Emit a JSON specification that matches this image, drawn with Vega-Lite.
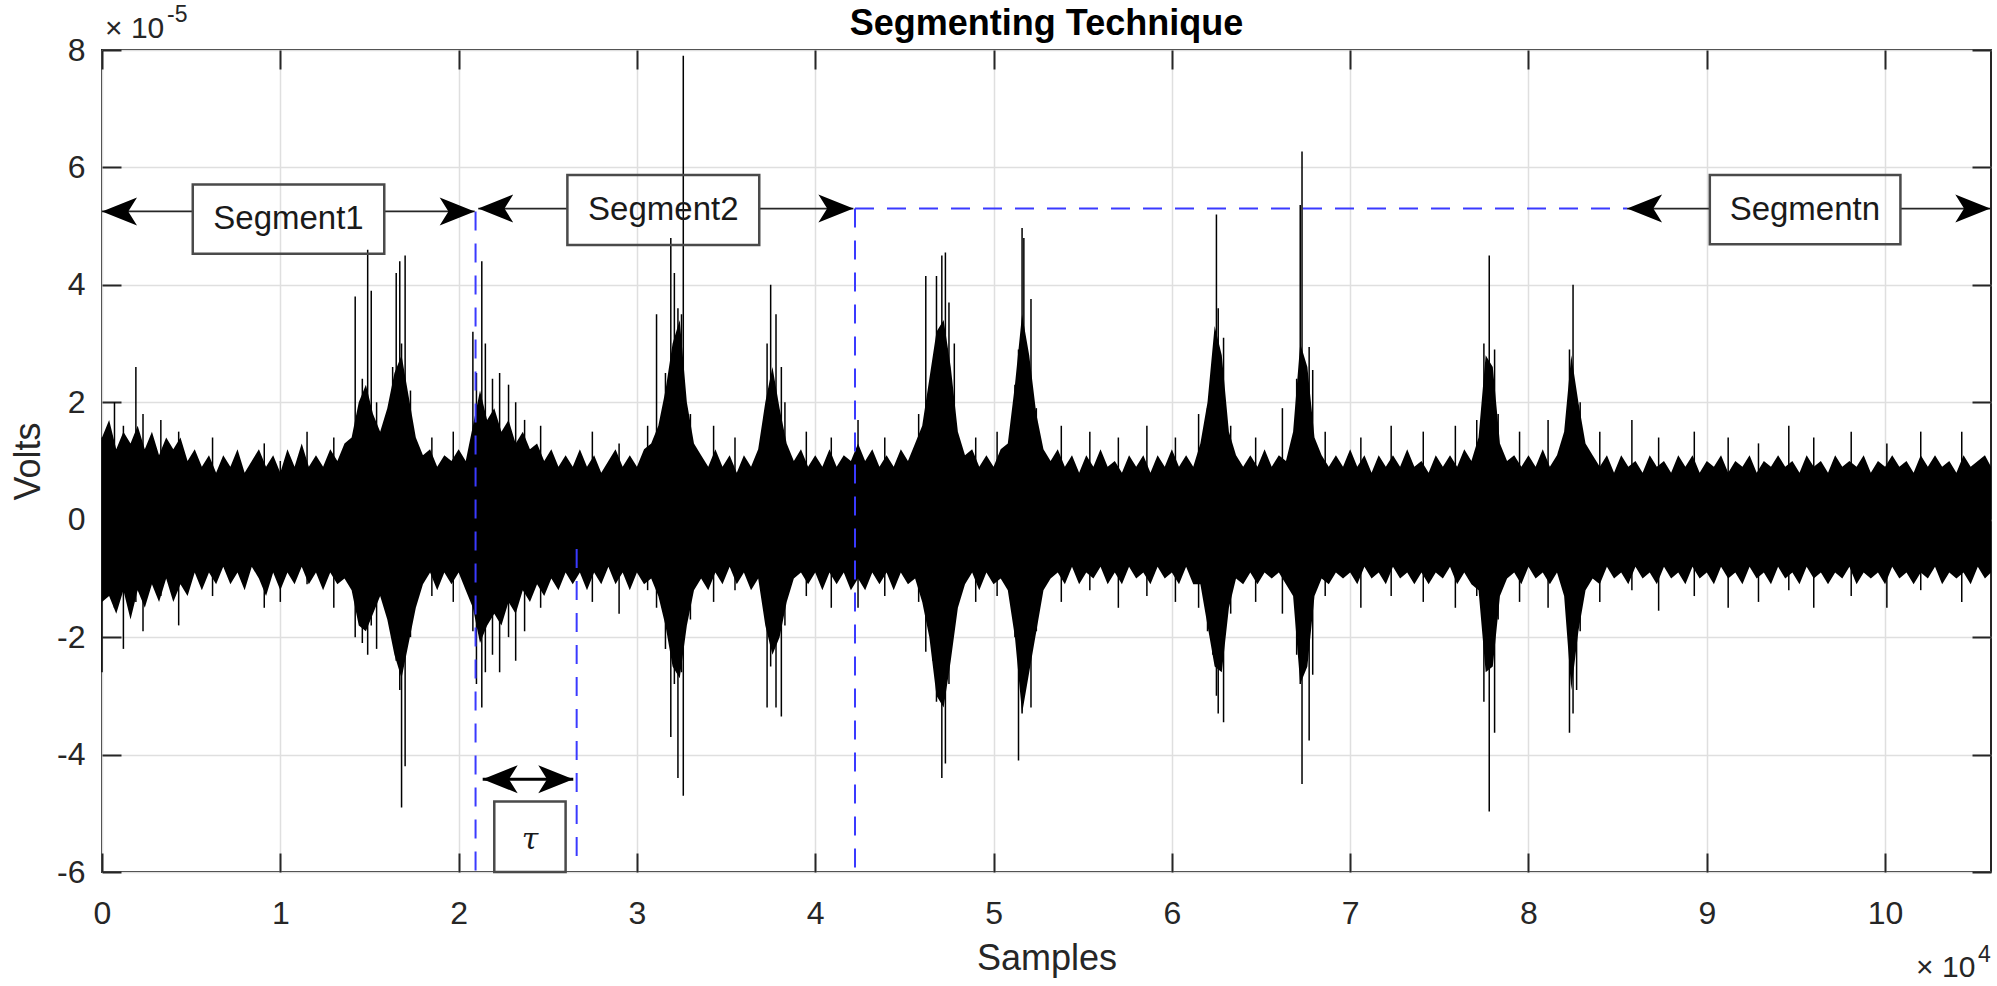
{
  "$schema": "https://vega.github.io/schema/vega-lite/v6.json",
  "width": 1889,
  "height": 822,
  "autosize": {"type": "none"},
  "padding": {"left": 102, "top": 50, "right": 6, "bottom": 114},
  "background": "white",
  "title": {"text": "Segmenting Technique", "font": "Liberation Sans", "fontSize": 36, "fontWeight": "bold", "color": "#000000", "anchor": "middle", "offset": -8, "dy": 31},
  "config": {"view": {"stroke": "#262626", "strokeWidth": 2}},
  "datasets": {
    "band": [
      {"s":0,"h":1.4,"l":-1.4},{"s":400,"h":1.7,"l":-1.3},{"s":800,"h":1.2,"l":-1.6},{"s":1200,"h":1.5,"l":-1.2},{"s":1600,"h":1.3,"l":-1.7},{"s":2000,"h":1.6,"l":-1.2},{"s":2400,"h":1.2,"l":-1.5},{"s":2800,"h":1.5,"l":-1.1},{"s":3200,"h":1.1,"l":-1.4},{"s":3600,"h":1.4,"l":-1.0},{"s":4000,"h":1.2,"l":-1.4},{"s":4400,"h":1.4,"l":-1.1},{"s":4800,"h":1.0,"l":-1.3},{"s":5200,"h":1.2,"l":-0.9},{"s":5600,"h":0.9,"l":-1.2},{"s":6000,"h":1.1,"l":-0.9},{"s":6400,"h":0.8,"l":-1.1},{"s":6800,"h":1.1,"l":-0.8},{"s":7200,"h":0.9,"l":-1.1},{"s":7600,"h":1.2,"l":-0.9},{"s":8000,"h":0.8,"l":-1.2},{"s":8400,"h":1.0,"l":-0.8},{"s":8800,"h":1.2,"l":-1.0},{"s":9200,"h":0.9,"l":-1.3},{"s":9600,"h":1.1,"l":-0.9},{"s":10000,"h":0.8,"l":-1.2},{"s":10400,"h":1.2,"l":-0.9},{"s":10800,"h":0.9,"l":-1.1},{"s":11200,"h":1.3,"l":-0.8},{"s":11600,"h":0.9,"l":-1.1},{"s":12000,"h":1.1,"l":-0.9},{"s":12400,"h":0.9,"l":-1.2},{"s":12800,"h":1.2,"l":-0.9},{"s":13200,"h":1.0,"l":-1.1},{"s":13600,"h":1.3,"l":-1.0},{"s":14000,"h":1.4,"l":-1.2},{"s":14400,"h":2.0,"l":-1.8},{"s":14800,"h":2.3,"l":-1.9},{"s":15200,"h":1.8,"l":-1.6},{"s":15600,"h":1.5,"l":-1.3},{"s":16000,"h":1.9,"l":-1.7},{"s":16400,"h":2.5,"l":-2.3},{"s":16800,"h":2.8,"l":-2.7},{"s":17200,"h":2.1,"l":-2.1},{"s":17600,"h":1.4,"l":-1.5},{"s":18000,"h":1.1,"l":-1.1},{"s":18400,"h":1.2,"l":-0.9},{"s":18800,"h":0.9,"l":-1.2},{"s":19200,"h":1.1,"l":-0.9},{"s":19600,"h":1.0,"l":-1.1},{"s":20000,"h":1.2,"l":-0.9},{"s":20400,"h":1.0,"l":-1.2},{"s":20800,"h":1.6,"l":-1.5},{"s":21200,"h":2.2,"l":-2.1},{"s":21600,"h":1.7,"l":-1.8},{"s":22000,"h":1.9,"l":-1.6},{"s":22400,"h":1.5,"l":-1.8},{"s":22800,"h":1.7,"l":-1.4},{"s":23200,"h":1.3,"l":-1.6},{"s":23600,"h":1.5,"l":-1.2},{"s":24000,"h":1.2,"l":-1.4},{"s":24400,"h":1.3,"l":-1.1},{"s":24800,"h":1.0,"l":-1.3},{"s":25200,"h":1.2,"l":-1.0},{"s":25600,"h":0.9,"l":-1.2},{"s":26000,"h":1.1,"l":-0.9},{"s":26400,"h":0.9,"l":-1.1},{"s":26800,"h":1.2,"l":-0.9},{"s":27200,"h":0.9,"l":-1.2},{"s":27600,"h":1.1,"l":-0.9},{"s":28000,"h":0.8,"l":-1.1},{"s":28400,"h":1.0,"l":-0.8},{"s":28800,"h":1.2,"l":-1.1},{"s":29200,"h":0.9,"l":-0.9},{"s":29600,"h":1.1,"l":-1.2},{"s":30000,"h":0.9,"l":-0.9},{"s":30400,"h":1.2,"l":-1.1},{"s":30800,"h":1.3,"l":-1.0},{"s":31200,"h":1.6,"l":-1.3},{"s":31600,"h":2.2,"l":-1.8},{"s":32000,"h":3.0,"l":-2.5},{"s":32400,"h":3.4,"l":-2.7},{"s":32800,"h":2.0,"l":-1.8},{"s":33200,"h":1.3,"l":-1.2},{"s":33600,"h":1.1,"l":-1.0},{"s":34000,"h":0.9,"l":-1.2},{"s":34400,"h":1.2,"l":-0.9},{"s":34800,"h":0.9,"l":-1.1},{"s":35200,"h":1.1,"l":-0.8},{"s":35600,"h":0.8,"l":-1.1},{"s":36000,"h":1.1,"l":-0.9},{"s":36400,"h":0.9,"l":-1.2},{"s":36800,"h":1.2,"l":-1.0},{"s":37200,"h":2.0,"l":-1.8},{"s":37600,"h":2.6,"l":-2.3},{"s":38000,"h":1.9,"l":-2.0},{"s":38400,"h":1.3,"l":-1.4},{"s":38800,"h":1.0,"l":-1.0},{"s":39200,"h":1.2,"l":-0.9},{"s":39600,"h":0.9,"l":-1.1},{"s":40000,"h":1.1,"l":-0.9},{"s":40400,"h":0.9,"l":-1.2},{"s":40800,"h":1.2,"l":-0.9},{"s":41200,"h":0.9,"l":-1.1},{"s":41600,"h":1.1,"l":-0.9},{"s":42000,"h":1.0,"l":-1.2},{"s":42400,"h":1.3,"l":-1.0},{"s":42800,"h":1.0,"l":-1.2},{"s":43200,"h":1.2,"l":-0.9},{"s":43600,"h":0.9,"l":-1.1},{"s":44000,"h":1.1,"l":-0.9},{"s":44400,"h":0.9,"l":-1.2},{"s":44800,"h":1.2,"l":-0.9},{"s":45200,"h":1.0,"l":-1.1},{"s":45600,"h":1.3,"l":-1.0},{"s":46000,"h":1.6,"l":-1.4},{"s":46400,"h":2.4,"l":-2.0},{"s":46800,"h":3.2,"l":-3.0},{"s":47200,"h":3.4,"l":-3.2},{"s":47600,"h":2.6,"l":-2.4},{"s":48000,"h":1.5,"l":-1.5},{"s":48400,"h":1.1,"l":-1.1},{"s":48800,"h":1.2,"l":-0.9},{"s":49200,"h":0.9,"l":-1.2},{"s":49600,"h":1.1,"l":-0.9},{"s":50000,"h":0.9,"l":-1.1},{"s":50400,"h":1.2,"l":-1.0},{"s":50800,"h":1.3,"l":-1.2},{"s":51200,"h":2.3,"l":-2.0},{"s":51600,"h":3.5,"l":-3.3},{"s":52000,"h":2.8,"l":-2.6},{"s":52400,"h":1.8,"l":-1.9},{"s":52800,"h":1.2,"l":-1.2},{"s":53200,"h":1.0,"l":-1.0},{"s":53600,"h":1.2,"l":-0.9},{"s":54000,"h":0.9,"l":-1.1},{"s":54400,"h":1.1,"l":-0.8},{"s":54800,"h":0.8,"l":-1.1},{"s":55200,"h":1.1,"l":-0.9},{"s":55600,"h":0.9,"l":-1.0},{"s":56000,"h":1.2,"l":-0.8},{"s":56400,"h":0.9,"l":-1.1},{"s":56800,"h":1.0,"l":-0.9},{"s":57200,"h":0.8,"l":-1.1},{"s":57600,"h":1.1,"l":-0.8},{"s":58000,"h":0.9,"l":-1.0},{"s":58400,"h":1.1,"l":-0.9},{"s":58800,"h":0.8,"l":-1.1},{"s":59200,"h":1.1,"l":-0.8},{"s":59600,"h":0.9,"l":-1.0},{"s":60000,"h":1.2,"l":-0.9},{"s":60400,"h":0.9,"l":-1.1},{"s":60800,"h":1.1,"l":-0.8},{"s":61200,"h":0.9,"l":-1.1},{"s":61600,"h":1.3,"l":-1.1},{"s":62000,"h":2.0,"l":-1.8},{"s":62400,"h":3.3,"l":-2.5},{"s":62800,"h":2.8,"l":-2.6},{"s":63200,"h":1.5,"l":-1.5},{"s":63600,"h":1.1,"l":-1.0},{"s":64000,"h":0.9,"l":-1.1},{"s":64400,"h":1.1,"l":-0.9},{"s":64800,"h":0.9,"l":-1.1},{"s":65200,"h":1.2,"l":-0.9},{"s":65600,"h":0.9,"l":-1.0},{"s":66000,"h":1.1,"l":-0.9},{"s":66400,"h":1.0,"l":-1.1},{"s":66800,"h":1.5,"l":-1.3},{"s":67200,"h":3.0,"l":-2.8},{"s":67600,"h":2.6,"l":-2.5},{"s":68000,"h":1.4,"l":-1.3},{"s":68400,"h":1.1,"l":-1.0},{"s":68800,"h":0.9,"l":-1.1},{"s":69200,"h":1.1,"l":-0.9},{"s":69600,"h":0.9,"l":-1.0},{"s":70000,"h":1.2,"l":-0.9},{"s":70400,"h":0.9,"l":-1.1},{"s":70800,"h":1.1,"l":-0.8},{"s":71200,"h":0.8,"l":-1.0},{"s":71600,"h":1.1,"l":-0.9},{"s":72000,"h":0.9,"l":-1.1},{"s":72400,"h":1.1,"l":-0.8},{"s":72800,"h":0.9,"l":-1.0},{"s":73200,"h":1.2,"l":-0.9},{"s":73600,"h":0.9,"l":-1.1},{"s":74000,"h":1.0,"l":-0.9},{"s":74400,"h":0.8,"l":-1.1},{"s":74800,"h":1.1,"l":-0.9},{"s":75200,"h":0.9,"l":-1.0},{"s":75600,"h":1.1,"l":-0.8},{"s":76000,"h":0.9,"l":-1.1},{"s":76400,"h":1.2,"l":-0.9},{"s":76800,"h":1.0,"l":-1.1},{"s":77200,"h":1.4,"l":-1.2},{"s":77600,"h":2.8,"l":-2.6},{"s":78000,"h":2.6,"l":-2.5},{"s":78400,"h":1.3,"l":-1.3},{"s":78800,"h":1.0,"l":-1.0},{"s":79200,"h":1.1,"l":-0.9},{"s":79600,"h":0.9,"l":-1.1},{"s":80000,"h":1.1,"l":-0.8},{"s":80400,"h":0.9,"l":-1.0},{"s":80800,"h":1.2,"l":-0.9},{"s":81200,"h":0.9,"l":-1.1},{"s":81600,"h":1.1,"l":-0.9},{"s":82000,"h":1.5,"l":-1.3},{"s":82400,"h":2.8,"l":-2.9},{"s":82800,"h":2.0,"l":-1.9},{"s":83200,"h":1.3,"l":-1.2},{"s":83600,"h":1.1,"l":-1.0},{"s":84000,"h":0.9,"l":-1.1},{"s":84400,"h":1.1,"l":-0.8},{"s":84800,"h":0.8,"l":-1.0},{"s":85200,"h":1.1,"l":-0.9},{"s":85600,"h":0.9,"l":-1.1},{"s":86000,"h":1.0,"l":-0.8},{"s":86400,"h":0.8,"l":-1.0},{"s":86800,"h":1.1,"l":-0.9},{"s":87200,"h":0.9,"l":-1.1},{"s":87600,"h":1.0,"l":-0.8},{"s":88000,"h":0.8,"l":-1.0},{"s":88400,"h":1.1,"l":-0.9},{"s":88800,"h":0.9,"l":-1.1},{"s":89200,"h":1.1,"l":-0.8},{"s":89600,"h":0.8,"l":-1.0},{"s":90000,"h":1.0,"l":-0.9},{"s":90400,"h":0.9,"l":-1.1},{"s":90800,"h":1.1,"l":-0.8},{"s":91200,"h":0.8,"l":-1.0},{"s":91600,"h":1.0,"l":-0.9},{"s":92000,"h":0.9,"l":-1.1},{"s":92400,"h":1.1,"l":-0.8},{"s":92800,"h":0.8,"l":-1.0},{"s":93200,"h":1.0,"l":-0.9},{"s":93600,"h":0.9,"l":-1.1},{"s":94000,"h":1.1,"l":-0.8},{"s":94400,"h":0.9,"l":-1.0},{"s":94800,"h":1.0,"l":-0.9},{"s":95200,"h":0.8,"l":-1.1},{"s":95600,"h":1.1,"l":-0.8},{"s":96000,"h":0.9,"l":-1.0},{"s":96400,"h":1.0,"l":-0.9},{"s":96800,"h":0.8,"l":-1.1},{"s":97200,"h":1.1,"l":-0.9},{"s":97600,"h":0.9,"l":-1.0},{"s":98000,"h":1.0,"l":-0.8},{"s":98400,"h":0.9,"l":-1.1},{"s":98800,"h":1.1,"l":-0.9},{"s":99200,"h":0.8,"l":-1.0},{"s":99600,"h":1.0,"l":-0.9},{"s":100000,"h":0.9,"l":-1.1},{"s":100400,"h":1.1,"l":-0.8},{"s":100800,"h":0.9,"l":-1.0},{"s":101200,"h":1.0,"l":-0.9},{"s":101600,"h":0.8,"l":-1.1},{"s":102000,"h":1.1,"l":-0.9},{"s":102400,"h":0.9,"l":-1.0},{"s":102800,"h":1.1,"l":-0.8},{"s":103200,"h":0.9,"l":-1.1},{"s":103600,"h":1.0,"l":-0.9},{"s":104000,"h":0.8,"l":-1.0},{"s":104400,"h":1.1,"l":-0.9},{"s":104800,"h":0.9,"l":-1.1},{"s":105200,"h":1.0,"l":-0.8},{"s":105600,"h":1.1,"l":-1.0},{"s":105940,"h":0.9,"l":-0.9}
    ],
    "spikes": [
      {"s":0,"t":1.4,"b":-2.6},{"s":700,"t":2.0,"b":-1.5},{"s":1200,"t":1.6,"b":-2.2},{"s":1900,"t":2.6,"b":-1.4},{"s":2300,"t":1.8,"b":-1.9},{"s":3300,"t":1.7,"b":-1.3},{"s":4300,"t":1.5,"b":-1.8},{"s":6200,"t":1.4,"b":-1.3},{"s":9100,"t":1.3,"b":-1.5},{"s":10000,"t":1.0,"b":-1.4},{"s":11500,"t":1.5,"b":-1.1},{"s":13000,"t":1.4,"b":-1.5},
      {"s":14200,"t":3.8,"b":-2.0},{"s":14600,"t":2.4,"b":-2.1},{"s":14900,"t":4.6,"b":-2.3},{"s":15100,"t":3.9,"b":-1.8},{"s":15400,"t":2.0,"b":-2.2},{"s":16300,"t":2.6,"b":-2.0},{"s":16500,"t":4.2,"b":-2.4},{"s":16700,"t":4.4,"b":-2.9},{"s":16800,"t":3.0,"b":-4.9},{"s":17000,"t":4.5,"b":-4.2},{"s":17300,"t":2.2,"b":-2.0},{"s":18500,"t":1.4,"b":-1.3},{"s":19700,"t":1.5,"b":-1.4},
      {"s":20800,"t":3.2,"b":-1.9},{"s":21000,"t":2.5,"b":-2.8},{"s":21300,"t":4.4,"b":-3.2},{"s":21500,"t":3.0,"b":-2.6},{"s":21900,"t":2.4,"b":-2.3},{"s":22300,"t":2.5,"b":-2.6},{"s":22800,"t":2.3,"b":-2.0},{"s":23200,"t":2.0,"b":-2.4},{"s":23700,"t":1.7,"b":-1.9},{"s":24600,"t":1.6,"b":-1.5},{"s":27500,"t":1.5,"b":-1.4},{"s":29000,"t":1.3,"b":-1.6},{"s":30600,"t":1.6,"b":-1.2},
      {"s":31100,"t":3.5,"b":-1.5},{"s":31600,"t":2.5,"b":-2.2},{"s":31900,"t":4.8,"b":-3.7},{"s":32100,"t":4.2,"b":-2.8},{"s":32300,"t":3.6,"b":-4.4},{"s":32500,"t":3.5,"b":-2.6},{"s":32600,"t":7.9,"b":-4.7},{"s":33000,"t":1.8,"b":-1.7},{"s":34300,"t":1.6,"b":-1.4},{"s":35500,"t":1.4,"b":-1.2},
      {"s":37300,"t":3.0,"b":-3.2},{"s":37500,"t":4.0,"b":-2.5},{"s":37800,"t":3.5,"b":-3.2},{"s":38100,"t":2.6,"b":-3.35},{"s":38300,"t":2.0,"b":-1.8},{"s":39500,"t":1.5,"b":-1.3},{"s":40900,"t":1.4,"b":-1.5},{"s":42400,"t":1.7,"b":-1.5},{"s":43900,"t":1.4,"b":-1.3},{"s":45800,"t":1.8,"b":-1.4},
      {"s":46200,"t":4.15,"b":-2.25},{"s":46600,"t":2.7,"b":-2.4},{"s":46800,"t":4.15,"b":-3.1},{"s":47100,"t":4.5,"b":-4.4},{"s":47300,"t":4.55,"b":-4.15},{"s":47500,"t":3.7,"b":-2.8},{"s":47800,"t":3.0,"b":-1.6},{"s":49000,"t":1.4,"b":-1.4},{"s":50200,"t":1.5,"b":-1.3},
      {"s":51200,"t":2.3,"b":-2.0},{"s":51400,"t":2.9,"b":-4.1},{"s":51600,"t":4.97,"b":-3.3},{"s":51700,"t":4.8,"b":-3.0},{"s":52100,"t":3.76,"b":-3.2},{"s":52400,"t":1.9,"b":-1.9},{"s":53800,"t":1.6,"b":-1.4},{"s":55400,"t":1.5,"b":-1.2},{"s":57000,"t":1.4,"b":-1.5},{"s":58600,"t":1.6,"b":-1.3},{"s":60200,"t":1.4,"b":-1.4},{"s":61500,"t":1.8,"b":-1.5},
      {"s":62000,"t":1.9,"b":-1.9},{"s":62300,"t":2.8,"b":-2.3},{"s":62500,"t":5.2,"b":-3.0},{"s":62600,"t":3.6,"b":-3.3},{"s":62900,"t":3.1,"b":-3.45},{"s":63300,"t":1.6,"b":-1.6},{"s":64700,"t":1.4,"b":-1.4},{"s":66200,"t":1.9,"b":-1.6},
      {"s":67000,"t":2.4,"b":-2.3},{"s":67200,"t":5.36,"b":-2.8},{"s":67300,"t":6.27,"b":-4.5},{"s":67700,"t":2.94,"b":-3.76},{"s":67900,"t":2.55,"b":-2.64},{"s":68600,"t":1.5,"b":-1.3},{"s":70600,"t":1.4,"b":-1.5},{"s":72300,"t":1.6,"b":-1.3},{"s":74100,"t":1.5,"b":-1.4},{"s":75900,"t":1.6,"b":-1.5},{"s":77100,"t":1.7,"b":-1.3},
      {"s":77500,"t":3.0,"b":-3.1},{"s":77800,"t":4.5,"b":-4.97},{"s":78100,"t":2.9,"b":-3.63},{"s":78300,"t":1.8,"b":-1.7},{"s":79500,"t":1.5,"b":-1.4},{"s":81100,"t":1.7,"b":-1.5},
      {"s":82300,"t":2.9,"b":-3.63},{"s":82500,"t":4.0,"b":-3.3},{"s":82700,"t":2.0,"b":-2.9},{"s":82900,"t":2.0,"b":-1.9},{"s":84000,"t":1.5,"b":-1.4},{"s":85800,"t":1.7,"b":-1.2},{"s":87300,"t":1.4,"b":-1.55},{"s":89300,"t":1.5,"b":-1.3},{"s":91200,"t":1.4,"b":-1.5},{"s":92900,"t":1.3,"b":-1.4},{"s":94600,"t":1.6,"b":-1.2},{"s":96000,"t":1.4,"b":-1.5},{"s":98100,"t":1.5,"b":-1.3},{"s":100100,"t":1.3,"b":-1.5},{"s":102000,"t":1.5,"b":-1.2},{"s":104300,"t":1.5,"b":-1.4}
    ],
    "dashes": [
      {"x1":20950,"x2":20950,"y1":5.25,"y2":-6},
      {"x1":26620,"x2":26620,"y1":-0.5,"y2":-5.75},
      {"x1":42230,"x2":42230,"y1":5.3,"y2":-6},
      {"x1":42230,"x2":85530,"y1":5.3,"y2":5.3}
    ],
    "shafts": [
      {"x1":0,"x2":5090,"y":5.25},{"x1":15830,"x2":20900,"y":5.25},
      {"x1":21100,"x2":26100,"y":5.3},{"x1":36860,"x2":42140,"y":5.3},
      {"x1":85530,"x2":90170,"y":5.3},{"x1":100860,"x2":105900,"y":5.3}
    ],
    "tauShaft": [{"x1":21350,"x2":26430,"y":-4.42}],
    "headsLeft": [{"s":0,"y":5.25},{"s":21100,"y":5.3},{"s":85530,"y":5.3},{"s":21350,"y":-4.42}],
    "headsRight": [{"s":20900,"y":5.25},{"s":42140,"y":5.3},{"s":105900,"y":5.3},{"s":26430,"y":-4.42}],
    "boxes": [
      {"x1":5090,"x2":15830,"y1":4.53,"y2":5.71},
      {"x1":26100,"x2":36860,"y1":4.68,"y2":5.87},
      {"x1":90170,"x2":100860,"y1":4.69,"y2":5.87},
      {"x1":22000,"x2":26000,"y1":-6,"y2":-4.8}
    ],
    "labels": [
      {"s":10460,"y":5.12,"text":"Segment1"},
      {"s":31480,"y":5.27,"text":"Segment2"},
      {"s":95500,"y":5.28,"text":"Segmentn"}
    ],
    "tau": [{"s":24000,"y":-5.45,"text":"τ"}],
    "expBase": [{"s":170,"y":8.2,"text":"× 10"},{"s":101739,"y":-7.79,"text":"× 10"}],
    "expSup": [{"s":3645,"y":8.48,"text":"-5"},{"s":105216,"y":-7.53,"text":"4"}]
  },
  "layer": [
    {
      "layer": [
        {
          "data": {"name": "band"},
          "mark": {"type": "area", "color": "#000000", "opacity": 1, "interpolate": "linear"},
          "encoding": {
            "x": {"field": "s", "type": "quantitative", "scale": {"domain": [0, 105940], "nice": false, "zero": false},
              "axis": {"values": [0,10000,20000,30000,40000,50000,60000,70000,80000,90000,100000], "labelExpr": "datum.value/10000", "grid": true, "gridColor": "#dfdfdf", "gridWidth": 1.5, "domain": false, "ticks": true, "tickSize": -19, "tickColor": "#262626", "tickWidth": 2, "labelFont": "Liberation Sans", "labelFontSize": 32, "labelColor": "#262626", "labelPadding": 45, "labelFlush": false, "labelOverlap": false, "title": "Samples", "titleFont": "Liberation Sans", "titleFontSize": 36, "titleFontWeight": "normal", "titleColor": "#262626", "titlePadding": 12}},
            "y": {"field": "h", "type": "quantitative", "scale": {"domain": [-6, 8], "nice": false, "zero": false},
              "axis": {"values": [-6,-4,-2,0,2,4,6,8], "labelExpr": "toString(datum.value)", "grid": true, "gridColor": "#dfdfdf", "gridWidth": 1.5, "domain": false, "ticks": true, "tickSize": -19, "tickColor": "#262626", "tickWidth": 2, "labelFont": "Liberation Sans", "labelFontSize": 32, "labelColor": "#262626", "labelPadding": 36, "labelOverlap": false, "title": "Volts", "titleFont": "Liberation Sans", "titleFontSize": 36, "titleFontWeight": "normal", "titleColor": "#262626", "titlePadding": 9}},
            "y2": {"field": "l"}
          }
        },
        {
          "data": {"name": "spikes"},
          "mark": {"type": "rule", "color": "#000000", "strokeWidth": 1.5},
          "encoding": {
            "x": {"field": "s", "type": "quantitative", "scale": {"domain": [0, 105940], "nice": false, "zero": false}},
            "y": {"field": "t", "type": "quantitative", "scale": {"domain": [-6, 8], "nice": false, "zero": false}},
            "y2": {"field": "b"}
          }
        },
        {
          "data": {"name": "dashes"},
          "mark": {"type": "rule", "color": "#3a3aff", "strokeWidth": 2, "strokeDash": [19, 13]},
          "encoding": {
            "x": {"field": "x1", "type": "quantitative", "scale": {"domain": [0, 105940], "nice": false, "zero": false}},
            "x2": {"field": "x2"},
            "y": {"field": "y1", "type": "quantitative", "scale": {"domain": [-6, 8], "nice": false, "zero": false}},
            "y2": {"field": "y2"}
          }
        },
        {
          "data": {"name": "shafts"},
          "mark": {"type": "rule", "color": "#262626", "strokeWidth": 1.8},
          "encoding": {
            "x": {"field": "x1", "type": "quantitative", "scale": {"domain": [0, 105940], "nice": false, "zero": false}},
            "x2": {"field": "x2"},
            "y": {"field": "y", "type": "quantitative", "scale": {"domain": [-6, 8], "nice": false, "zero": false}}
          }
        },
        {
          "data": {"name": "tauShaft"},
          "mark": {"type": "rule", "color": "#000000", "strokeWidth": 3},
          "encoding": {
            "x": {"field": "x1", "type": "quantitative", "scale": {"domain": [0, 105940], "nice": false, "zero": false}},
            "x2": {"field": "x2"},
            "y": {"field": "y", "type": "quantitative", "scale": {"domain": [-6, 8], "nice": false, "zero": false}}
          }
        },
        {
          "data": {"name": "boxes"},
          "mark": {"type": "rect", "filled": false, "color": "#4a4a4a", "strokeWidth": 2.5},
          "encoding": {
            "x": {"field": "x1", "type": "quantitative", "scale": {"domain": [0, 105940], "nice": false, "zero": false}},
            "x2": {"field": "x2"},
            "y": {"field": "y1", "type": "quantitative", "scale": {"domain": [-6, 8], "nice": false, "zero": false}},
            "y2": {"field": "y2"}
          }
        },
        {
          "data": {"name": "labels"},
          "mark": {"type": "text", "font": "Liberation Sans", "fontSize": 33, "color": "#1a1a1a", "align": "center", "baseline": "middle"},
          "encoding": {
            "x": {"field": "s", "type": "quantitative", "scale": {"domain": [0, 105940], "nice": false, "zero": false}},
            "y": {"field": "y", "type": "quantitative", "scale": {"domain": [-6, 8], "nice": false, "zero": false}},
            "text": {"field": "text"}
          }
        },
        {
          "data": {"name": "tau"},
          "mark": {"type": "text", "font": "DejaVu Serif", "fontStyle": "italic", "fontSize": 30, "color": "#1a1a1a", "align": "center", "baseline": "middle"},
          "encoding": {
            "x": {"field": "s", "type": "quantitative", "scale": {"domain": [0, 105940], "nice": false, "zero": false}},
            "y": {"field": "y", "type": "quantitative", "scale": {"domain": [-6, 8], "nice": false, "zero": false}},
            "text": {"field": "text"}
          }
        },
        {
          "data": {"name": "headsLeft"},
          "mark": {"type": "point", "shape": "M0,0 L2,-0.8 L1.5,0 L2,0.8 Z", "filled": true, "size": 1225, "color": "#000000", "opacity": 1},
          "encoding": {
            "x": {"field": "s", "type": "quantitative", "scale": {"domain": [0, 105940], "nice": false, "zero": false}},
            "y": {"field": "y", "type": "quantitative", "scale": {"domain": [-6, 8], "nice": false, "zero": false}}
          }
        },
        {
          "data": {"name": "headsRight"},
          "mark": {"type": "point", "shape": "M0,0 L-2,-0.8 L-1.5,0 L-2,0.8 Z", "filled": true, "size": 1225, "color": "#000000", "opacity": 1},
          "encoding": {
            "x": {"field": "s", "type": "quantitative", "scale": {"domain": [0, 105940], "nice": false, "zero": false}},
            "y": {"field": "y", "type": "quantitative", "scale": {"domain": [-6, 8], "nice": false, "zero": false}}
          }
        },
        {
          "data": {"name": "expBase"},
          "mark": {"type": "text", "font": "Liberation Sans", "fontSize": 30, "color": "#262626", "align": "left", "baseline": "alphabetic"},
          "encoding": {
            "x": {"field": "s", "type": "quantitative", "scale": {"domain": [0, 105940], "nice": false, "zero": false}},
            "y": {"field": "y", "type": "quantitative", "scale": {"domain": [-6, 8], "nice": false, "zero": false}},
            "text": {"field": "text"}
          }
        },
        {
          "data": {"name": "expSup"},
          "mark": {"type": "text", "font": "Liberation Sans", "fontSize": 23, "color": "#262626", "align": "left", "baseline": "alphabetic"},
          "encoding": {
            "x": {"field": "s", "type": "quantitative", "scale": {"domain": [0, 105940], "nice": false, "zero": false}},
            "y": {"field": "y", "type": "quantitative", "scale": {"domain": [-6, 8], "nice": false, "zero": false}},
            "text": {"field": "text"}
          }
        }
      ]
    },
    {
      "data": {"name": "headsLeft"},
      "mark": {"type": "point", "opacity": 0},
      "encoding": {
        "x": {"field": "s", "type": "quantitative", "scale": {"domain": [0, 105940], "nice": false, "zero": false},
          "axis": {"orient": "top", "values": [0,10000,20000,30000,40000,50000,60000,70000,80000,90000,100000], "labels": false, "grid": false, "domain": false, "tickSize": -19, "tickColor": "#262626", "tickWidth": 2, "title": null}},
        "y": {"field": "y", "type": "quantitative", "scale": {"domain": [-6, 8], "nice": false, "zero": false},
          "axis": {"orient": "right", "values": [-6,-4,-2,0,2,4,6,8], "labels": false, "grid": false, "domain": false, "tickSize": -19, "tickColor": "#262626", "tickWidth": 2, "title": null}}
      }
    }
  ],
  "resolve": {"axis": {"x": "independent", "y": "independent"}}
}
